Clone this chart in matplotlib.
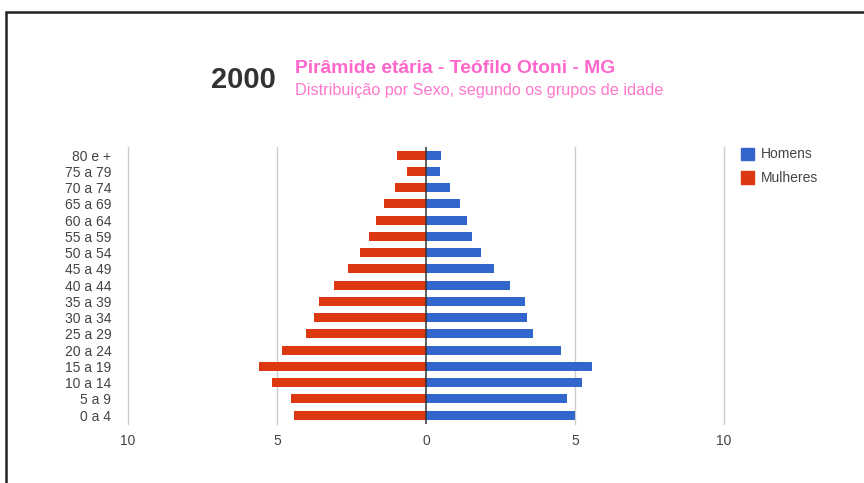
import matplotlib
matplotlib.use("Agg")
import matplotlib.pyplot as plt
from matplotlib.patches import Rectangle, Patch
import numpy as np

plt.rcParams['font.family'] = ['Liberation Sans', 'DejaVu Sans']

# faixas etárias, de baixo para cima
faixas = ["0 a 4", "5 a 9", "10 a 14", "15 a 19", "20 a 24", "25 a 29", "30 a 34",
          "35 a 39", "40 a 44", "45 a 49", "50 a 54", "55 a 59", "60 a 64",
          "65 a 69", "70 a 74", "75 a 79", "80 e +"]
homens = [4.99, 4.72, 5.25, 5.56, 4.54, 3.60, 3.40, 3.33, 2.81, 2.27, 1.86,
          1.55, 1.38, 1.15, 0.81, 0.47, 0.50]
mulheres = [4.44, 4.53, 5.17, 5.61, 4.83, 4.04, 3.77, 3.58, 3.10, 2.61, 2.23,
            1.90, 1.67, 1.41, 1.03, 0.65, 0.98]
ticks_x = [-10, -5, 0, 5, 10]

azul = "#3366cc"
vermelho = "#dc3912"
cinza_txt = "#444444"

fig = plt.figure(figsize=(8.64, 4.83), dpi=100)
ax = fig.add_axes([128 / 864, 1 - 424 / 483, 596 / 864, 277 / 483])

y = np.arange(len(faixas))
ax.barh(y, homens, height=0.55, color=azul, label="Homens", zorder=2)
ax.barh(y, [-v for v in mulheres], height=0.55, color=vermelho, label="Mulheres", zorder=2)

ax.set_xlim(-10, 10)
ax.set_ylim(-0.55, 16.5)
ax.set_yticks(y)
ax.set_yticklabels(faixas)
ax.set_xticks(ticks_x)
ax.set_xticklabels([str(abs(t)) for t in ticks_x])
ax.tick_params(length=0, labelsize=10, labelcolor=cinza_txt)
ax.tick_params(axis='x', pad=7)
ax.tick_params(axis='y', pad=12)
for s in ax.spines.values():
    s.set_visible(False)

for t in ticks_x:
    if t == 0:
        ax.axvline(t, color="#333333", lw=1.1, zorder=3)
    else:
        ax.axvline(t, color="#cccccc", lw=1, zorder=1, clip_on=False)

# legenda à direita
handles = [Patch(color=azul, label="Homens"), Patch(color=vermelho, label="Mulheres")]
fig.legend(handles=handles, loc="upper left", bbox_to_anchor=(728 / 864, 1 - 135 / 483),
           frameon=False, handlelength=1.0, handleheight=1.0, handletextpad=0.5,
           labelspacing=0.7, fontsize=10, labelcolor=cinza_txt)

# títulos
fig.text(211 / 864, 1 - 80 / 483, "2000", fontsize=21, fontweight="bold",
         color="#333333", va="center", ha="left")
fig.text(295 / 864, 1 - 69 / 483, "Pirâmide etária - Teófilo Otoni - MG", fontsize=13.9,
         fontweight="bold", color="#ff66cc", va="center", ha="left")
fig.text(295 / 864, 1 - 90 / 483, "Distribuição por Sexo, segundo os grupos de idade",
         fontsize=11.7, color="#ff77cc", va="center", ha="left")

# moldura
fig.patches.append(Rectangle((6 / 864, -0.1), 1.2, 1.1 - 12.5 / 483,
                             transform=fig.transFigure, fill=False,
                             edgecolor="#222222", lw=1.8))

fig.savefig("out.png", dpi=100)
